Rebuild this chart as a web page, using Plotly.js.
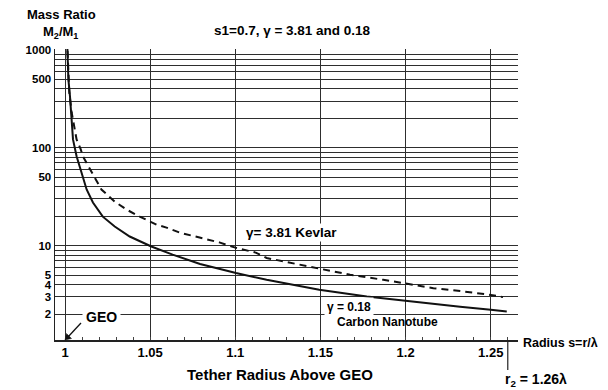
<!DOCTYPE html>
<html>
<head>
<meta charset="utf-8">
<script src="https://cdn.plot.ly/plotly-3.0.1.min.js"></script>
<style>html,body{margin:0;padding:0;background:#fff}#chart{width:608px;height:390px}</style>
</head>
<body>
<div id="chart"></div>
<script>
// Carbon nanotube (gamma = 0.18), solid
const xNanotube = [1.0012, 1.0016, 1.002, 1.0029, 1.0035, 1.0047, 1.0068, 1.0098, 1.0127, 1.0164, 1.0222, 1.0292, 1.038, 1.0507, 1.0632, 1.0793, 1.1004, 1.1184, 1.1493, 1.1772, 1.199, 1.2163, 1.232, 1.25, 1.2594];
const yNanotube = [1300, 750, 500, 340, 220, 122, 82, 56, 37.5, 27.6, 19.8, 15.7, 12.4, 9.8, 8.1, 6.5, 5.25, 4.48, 3.54, 3.02, 2.73, 2.54, 2.38, 2.21, 2.12];
// Kevlar (gamma = 3.81), dashed
const xKevlar = [1.0012, 1.0018, 1.0025, 1.0039, 1.0059, 1.0068, 1.0092, 1.0105, 1.0158, 1.0214, 1.0292, 1.0361, 1.0439, 1.0537, 1.0596, 1.0673, 1.079, 1.0906, 1.1004, 1.112, 1.1184, 1.138, 1.1493, 1.1674, 1.1869, 1.199, 1.2163, 1.2261, 1.232, 1.25, 1.2572];
const yKevlar = [1300, 650, 372, 231, 155, 122, 97, 82, 56, 37.5, 28.2, 23.4, 19.8, 16.4, 15.3, 13.6, 12.1, 10.8, 9.5, 8.5, 7.48, 6.38, 5.9, 5.04, 4.48, 4.14, 3.68, 3.54, 3.45, 3.14, 2.98];

const xTickVals = [1, 1.05, 1.1, 1.15, 1.2, 1.25];
const xTickText = ['1', '1.05', '1.1', '1.15', '1.2', '1.25'];
const yLabeled = [2, 3, 4, 5, 10, 50, 100, 500, 1000];
const yLabelText = ['2', '3', '4', '5', '10', '50', '100', '500', '1000'];
const yMinorGrid = [6, 7, 8, 9, 20, 30, 40, 60, 70, 80, 90, 200, 300, 400, 600, 700, 800, 900];
const r2 = 1.26;

const FONT = '"Liberation Sans", Arial, Helvetica, sans-serif';
const bold = (size) => ({family: FONT, size: size, color: '#000', weight: 700});
const GRID = '#2e2e2e';

const traces = [
  {x: xNanotube, y: yNanotube, type: 'scatter', mode: 'lines',
   line: {color: '#111', width: 2}, hoverinfo: 'skip', showlegend: false},
  {x: xKevlar, y: yKevlar, type: 'scatter', mode: 'lines',
   line: {color: '#111', width: 2, dash: '7px,5px'}, hoverinfo: 'skip', showlegend: false}
];

const layout = {
  width: 608, height: 390,
  margin: {l: 55, r: 90, t: 49, b: 50, pad: 0},
  paper_bgcolor: '#fff', plot_bgcolor: '#fff',
  showlegend: false,
  xaxis: {
    range: [0.99413, 1.2660], tickmode: 'array', tickvals: xTickVals, ticktext: xTickText,
    showgrid: true, gridcolor: GRID, gridwidth: 1, zeroline: false,
    showline: true, linecolor: '#222', linewidth: 1.5,
    ticks: '', tickfont: bold(13),
    minor: {dtick: 0.01, ticks: 'inside', ticklen: 3, tickcolor: '#444', showgrid: false}
  },
  yaxis: {
    type: 'log', range: [0.036, 3.01], tickmode: 'array', tickvals: yLabeled, ticktext: yLabelText,
    showgrid: true, gridcolor: GRID, gridwidth: 1, zeroline: false,
    showline: true, linecolor: '#222', linewidth: 1.5,
    ticks: '', tickfont: bold(11.5),
    minor: {tickmode: 'array', tickvals: yMinorGrid, showgrid: true, gridcolor: GRID, gridwidth: 1, ticks: ''}
  },
  shapes: [
    {type: 'line', xref: 'x', yref: 'paper', x0: r2, x1: r2, y0: 0, y1: -0.103,
     line: {color: '#222', width: 1.2}},
    // GEO pointer arrow (pixel offsets from the origin of the axes)
    {type: 'line', xref: 'x', yref: 'paper', xsizemode: 'pixel', ysizemode: 'pixel',
     xanchor: 1, yanchor: 0, x0: 2, y0: 2, x1: 16, y1: 17, line: {color: '#111', width: 1.3}},
    {type: 'path', xref: 'x', yref: 'paper', xsizemode: 'pixel', ysizemode: 'pixel',
     xanchor: 1, yanchor: 0, path: 'M 0 0 L 1.5 6.5 L 6.5 1.5 Z',
     fillcolor: '#111', line: {color: '#111', width: 0.5}}
  ],
  annotations: [
    {text: 'Mass Ratio', xref: 'paper', yref: 'paper', x: 0.013, y: 1.117, showarrow: false,
     xanchor: 'center', yanchor: 'middle', font: bold(13)},
    {text: 'M<sub>2</sub>/M<sub>1</sub>', xref: 'paper', yref: 'paper', x: 0.011, y: 1.058, showarrow: false,
     xanchor: 'center', yanchor: 'middle', font: bold(13)},
    {text: 's1=0.7, γ = 3.81 and 0.18', xref: 'paper', yref: 'paper', x: 0.512, y: 1.062, showarrow: false,
     xanchor: 'center', yanchor: 'middle', font: bold(13.5)},
    {text: 'GEO', xref: 'paper', yref: 'paper', x: 0.1015, y: 0.079, showarrow: false,
     xanchor: 'center', yanchor: 'middle', font: bold(14), bgcolor: '#fff', borderpad: 3},
    {text: 'γ= 3.81 Kevlar', xref: 'paper', yref: 'paper', x: 0.511, y: 0.368, showarrow: false,
     xanchor: 'center', yanchor: 'middle', font: bold(13.5), bgcolor: '#fff', borderpad: 1},
    {text: 'γ = 0.18', xref: 'paper', yref: 'paper', x: 0.636, y: 0.112, showarrow: false,
     xanchor: 'center', yanchor: 'middle', font: bold(12), bgcolor: '#fff', borderpad: 2},
    {text: 'Carbon Nanotube', xref: 'paper', yref: 'paper', x: 0.718, y: 0.062, showarrow: false,
     xanchor: 'center', yanchor: 'middle', font: bold(12)},
    {text: 'Radius s=r/λ', xref: 'paper', yref: 'paper', x: 1.0065, y: -0.010, showarrow: false,
     xanchor: 'left', yanchor: 'middle', font: bold(12.5)},
    {text: 'r<sub>2</sub> = 1.26λ', xref: 'paper', yref: 'paper', x: 1.039, y: -0.137, showarrow: false,
     xanchor: 'center', yanchor: 'middle', font: bold(14)},
    {text: 'Tether Radius Above GEO', xref: 'paper', yref: 'paper', x: 0.486, y: -0.120, showarrow: false,
     xanchor: 'center', yanchor: 'middle', font: bold(15)}
  ]
};

Plotly.newPlot('chart', traces, layout, {staticPlot: true, displayModeBar: false});
</script>
</body>
</html>
